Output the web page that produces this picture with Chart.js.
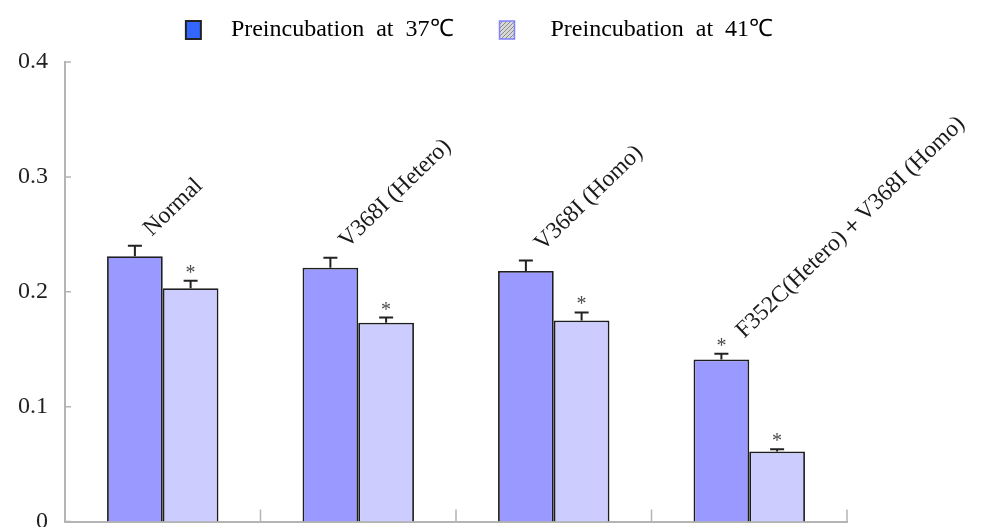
<!DOCTYPE html>
<html>
<head>
<meta charset="utf-8">
<script src="https://cdn.jsdelivr.net/npm/chart.js@4"></script>
<style>
  html, body { margin: 0; padding: 0; background: #fff; }
  #wrap { width: 981px; height: 527px; }
</style>
</head>
<body>
<div id="wrap"><canvas id="chart"></canvas></div>
<script>
// data
const categories = ['Normal', 'V368I (Hetero)', 'V368I (Homo)', 'F352C(Hetero)＋V368I (Homo)'];
const seriesNames = ['Preincubation  at  37℃', 'Preincubation  at  41℃'];
const values37 = [0.231, 0.221, 0.218, 0.141];
const values41 = [0.203, 0.173, 0.175, 0.061];
const errors37 = [0.009, 0.0087, 0.0093, 0.005];
const errors41 = [0.0065, 0.0045, 0.007, 0.002];
const stars37 = [false, false, false, true];
const stars41 = [true, true, true, true];
const yTicks = [0, 0.1, 0.2, 0.3, 0.4];

const SERIF = '"Liberation Serif", "Times New Roman", serif';

// hatched swatch for the second legend entry
function makeHatch() {
    const c = document.createElement('canvas');
    c.width = 4; c.height = 4;
    const g = c.getContext('2d');
    g.fillStyle = '#d8d8d8';
    g.fillRect(0, 0, 4, 4);
    g.strokeStyle = '#8a8a8a';
    g.lineWidth = 1;
    g.beginPath();
    g.moveTo(0, 4); g.lineTo(4, 0);
    g.moveTo(-1, 1); g.lineTo(1, -1);
    g.moveTo(3, 5); g.lineTo(5, 3);
    g.stroke();
    return g.createPattern(c, 'repeat');
}

const errorBars = {
    id: 'errorBars',
    afterDatasetsDraw(chart) {
        const ctx = chart.ctx;
        const y = chart.scales.y;
        chart.data.datasets.forEach((ds, di) => {
            const meta = chart.getDatasetMeta(di);
            meta.data.forEach((bar, i) => {
                const top = y.getPixelForValue(ds.data[i] + ds.errors[i]);
                ctx.save();
                ctx.strokeStyle = '#222';
                ctx.lineWidth = 2;
                ctx.beginPath();
                ctx.moveTo(bar.x, bar.y);
                ctx.lineTo(bar.x, top);
                ctx.moveTo(bar.x - 7, top);
                ctx.lineTo(bar.x + 7, top);
                ctx.stroke();
                if (ds.stars[i]) {
                    ctx.fillStyle = '#4a4a4a';
                    ctx.font = '20px ' + SERIF;
                    ctx.textAlign = 'center';
                    ctx.textBaseline = 'alphabetic';
                    ctx.fillText('*', bar.x, top - 2);
                }
                ctx.restore();
            });
        });
    }
};

// slanted group names above the bars
const groupLabels = {
    id: 'groupLabels',
    afterDatasetsDraw(chart) {
        const ctx = chart.ctx;
        const x = chart.scales.x, y = chart.scales.y;
        categories.forEach((label, i) => {
            const cx = x.getPixelForValue(i);
            const top = y.getPixelForValue(values37[i] + errors37[i]);
            const dx = stars37[i] ? -5 : -11;
            const dy = stars37[i] ? 15 : 9;
            ctx.save();
            ctx.translate(cx + dx, top - dy);
            ctx.rotate(-44 * Math.PI / 180);
            ctx.font = '23.5px ' + SERIF;
            ctx.fillStyle = '#1a1a1a';
            ctx.textAlign = 'left';
            ctx.textBaseline = 'alphabetic';
            ctx.fillText(label, 0, 0);
            ctx.restore();
        });
    }
};

// tick marks pointing into the plot
const innerTicks = {
    id: 'innerTicks',
    afterDraw(chart) {
        const ctx = chart.ctx;
        const {x, y} = chart.scales;
        ctx.save();
        ctx.strokeStyle = '#b4b4b4';
        ctx.lineWidth = 1.5;
        ctx.beginPath();
        yTicks.forEach(v => {
            const py = y.getPixelForValue(v);
            ctx.moveTo(x.left, py);
            ctx.lineTo(x.left + 6, py);
        });
        for (let i = 0; i < categories.length; i++) {
            const px = i < categories.length - 1
                ? (x.getPixelForValue(i) + x.getPixelForValue(i + 1)) / 2
                : x.right;
            ctx.moveTo(px, y.bottom);
            ctx.lineTo(px, y.bottom - 12);
        }
        ctx.stroke();
        ctx.restore();
    }
};

// nudge the legend row, as in the original figure
const legendShift = {
    id: 'legendShift',
    afterLayout(chart) {
        chart.legend.left += 56;
        chart.legend.right += 56;
        chart.legend.top -= 10;
        chart.legend.bottom -= 10;
    }
};

const hatch = makeHatch();

new Chart(document.getElementById('chart'), {
    type: 'bar',
    data: {
        labels: categories,
        datasets: [{
            label: seriesNames[0],
            data: values37,
            errors: errors37,
            stars: stars37,
            backgroundColor: '#9999ff',
            borderColor: '#1e1e1e',
            borderWidth: 1.8,
            categoryPercentage: 0.57,
            barPercentage: 1.0
        }, {
            label: seriesNames[1],
            data: values41,
            errors: errors41,
            stars: stars41,
            backgroundColor: '#ccccff',
            borderColor: '#1e1e1e',
            borderWidth: 1.8,
            categoryPercentage: 0.57,
            barPercentage: 1.0
        }]
    },
    options: {
        responsive: true,
        maintainAspectRatio: false,
        animation: false,
        layout: {
            padding: { top: 0, right: 134, bottom: 5.5, left: 0 }
        },
        plugins: {
            tooltip: { enabled: false },
            legend: {
                position: 'top',
                labels: {
                    font: { family: SERIF, size: 24 },
                    color: '#222',
                    boxWidth: 15,
                    boxHeight: 18,
                    padding: 16,
                    generateLabels(chart) {
                        return [{
                            text: '   ' + seriesNames[0] + '     ',
                            fillStyle: '#3366ff',
                            strokeStyle: '#222',
                            lineWidth: 2,
                            datasetIndex: 0,
                            hidden: false
                        }, {
                            text: '    ' + seriesNames[1],
                            fillStyle: hatch,
                            strokeStyle: '#8080ff',
                            lineWidth: 1.5,
                            datasetIndex: 1,
                            hidden: false
                        }];
                    }
                }
            }
        },
        scales: {
            x: {
                offset: true,
                afterFit(scale) { scale.height = 0; },
                grid: { display: false },
                border: { display: true, color: '#b4b4b4', width: 2 },
                ticks: { display: false }
            },
            y: {
                min: 0,
                max: 0.4,
                afterFit(scale) {
                    scale.width = 65;
                    scale.paddingTop = 62;
                    scale.paddingBottom = 0;
                },
                afterBuildTicks(scale) { scale.ticks = yTicks.map(v => ({ value: v })); },
                grid: { display: false, drawTicks: false },
                border: { display: true, color: '#b4b4b4', width: 2 },
                ticks: {
                    font: { family: SERIF, size: 24 },
                    color: '#222',
                    padding: 17,
                    callback: v => String(v)
                }
            }
        }
    },
    plugins: [errorBars, groupLabels, innerTicks, legendShift]
});
</script>
</body>
</html>
